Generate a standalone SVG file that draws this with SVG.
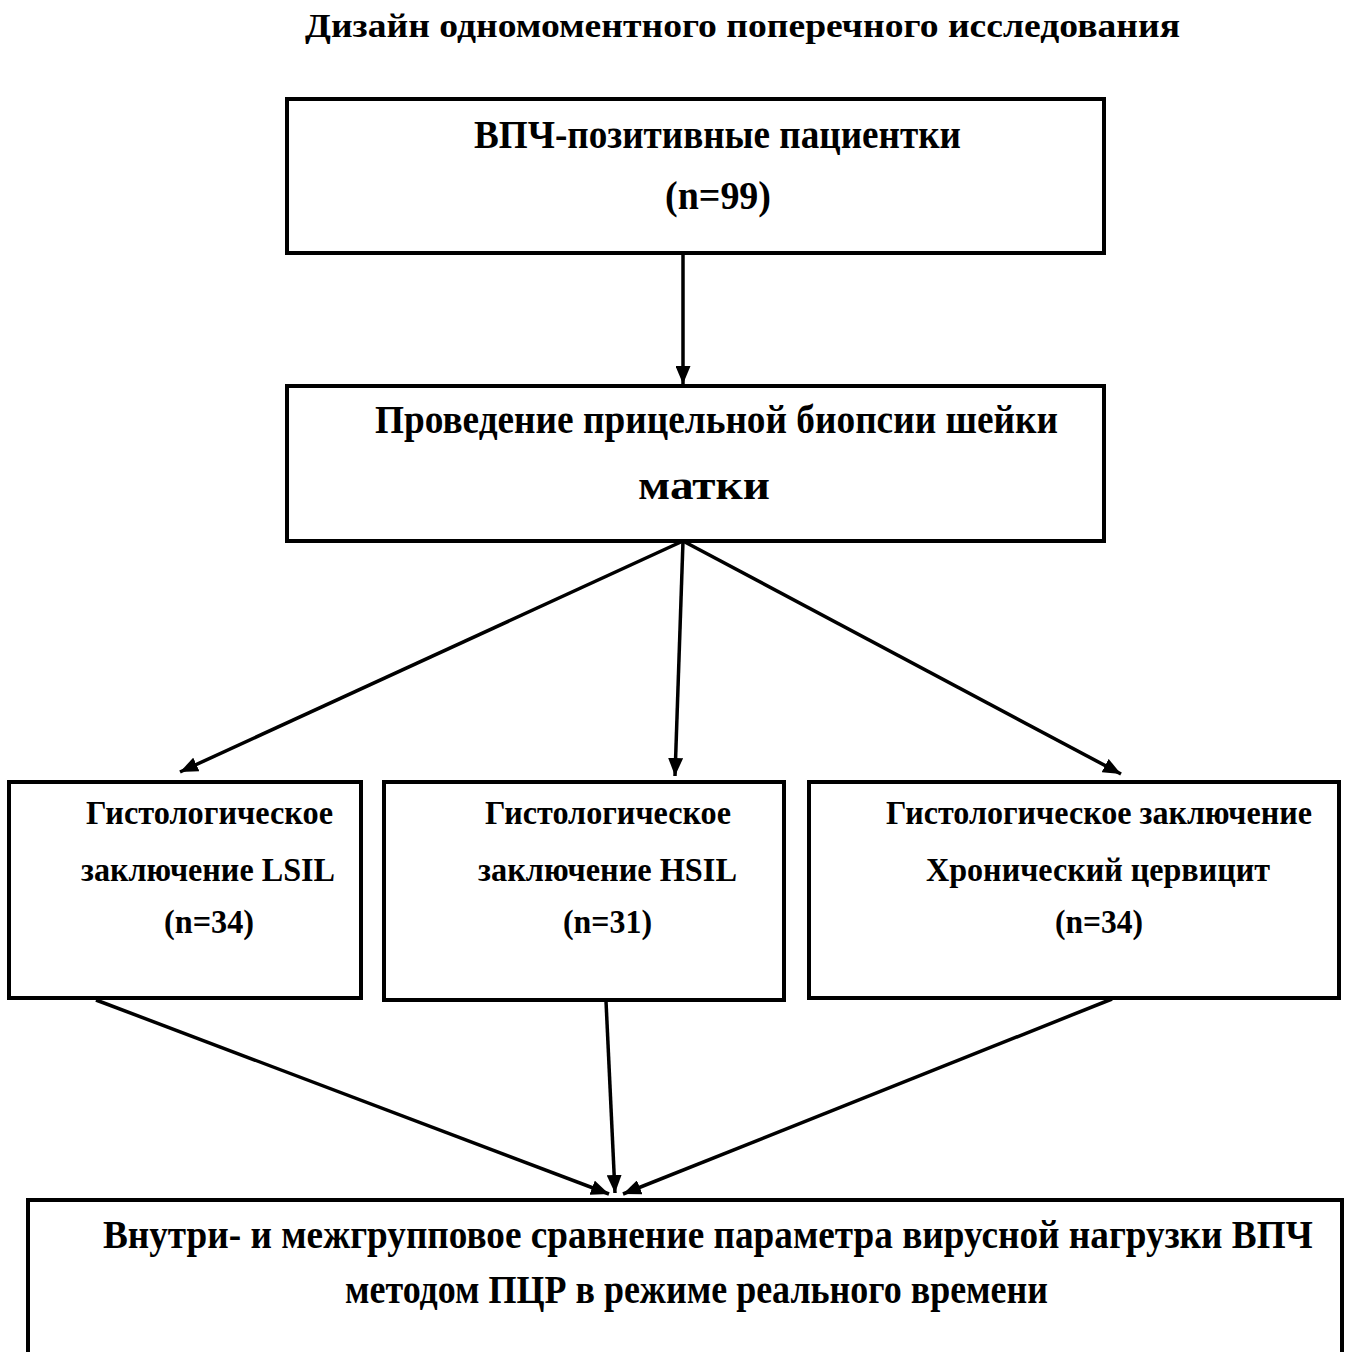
<svg xmlns="http://www.w3.org/2000/svg" width="1349" height="1352" viewBox="0 0 1349 1352">
<style>
.box{fill:#fff;stroke:#000;stroke-width:4}
.t{font-family:"Liberation Serif","Times New Roman",serif;font-weight:bold;fill:#000}
.l{fill:none;stroke:#000;stroke-width:3.5}
</style>
<defs>
<marker id="ah" markerUnits="userSpaceOnUse" markerWidth="18" markerHeight="15" refX="18" refY="7.5" orient="auto" viewBox="0 0 18 15">
<path d="M0,0 L18,7.5 L0,15 z" fill="#000"/>
</marker>
</defs>
<rect width="1349" height="1352" fill="#fff"/>
<text class="t" x="305" y="37" font-size="33" textLength="875" lengthAdjust="spacingAndGlyphs">Дизайн одномоментного поперечного исследования</text>
<g id="connectors">
<line class="l" x1="683" y1="253" x2="683" y2="384" marker-end="url(#ah)"/>
<line class="l" x1="683" y1="541" x2="180" y2="772" marker-end="url(#ah)"/>
<line class="l" x1="683" y1="541" x2="675" y2="776" marker-end="url(#ah)"/>
<line class="l" x1="683" y1="541" x2="1121" y2="774" marker-end="url(#ah)"/>
<line class="l" x1="96" y1="1000" x2="609" y2="1194" marker-end="url(#ah)"/>
<line class="l" x1="606" y1="1001" x2="615" y2="1193" marker-end="url(#ah)"/>
<line class="l" x1="1112" y1="999" x2="623" y2="1194" marker-end="url(#ah)"/>
</g>
<g id="n1">
<rect class="box" x="287" y="99" width="817" height="154"/>
<text class="t" x="474" y="148" font-size="40" textLength="487" lengthAdjust="spacingAndGlyphs">ВПЧ-позитивные пациентки</text>
<text class="t" x="665" y="209" font-size="40" textLength="106" lengthAdjust="spacingAndGlyphs">(n=99)</text>
</g>
<g id="n2">
<rect class="box" x="287" y="386" width="817" height="155"/>
<text class="t" x="375" y="433" font-size="40" textLength="683" lengthAdjust="spacingAndGlyphs">Проведение прицельной биопсии шейки</text>
<text class="t" x="638" y="499" font-size="40" textLength="132" lengthAdjust="spacingAndGlyphs">матки</text>
</g>
<g id="n3">
<rect class="box" x="9" y="782" width="352" height="216"/>
<text class="t" x="86" y="824" font-size="34" textLength="247" lengthAdjust="spacingAndGlyphs">Гистологическое</text>
<text class="t" x="81" y="881" font-size="34" textLength="254" lengthAdjust="spacingAndGlyphs">заключение LSIL</text>
<text class="t" x="164" y="933" font-size="34" textLength="90" lengthAdjust="spacingAndGlyphs">(n=34)</text>
</g>
<g id="n4">
<rect class="box" x="384" y="782" width="400" height="218"/>
<text class="t" x="485" y="824" font-size="34" textLength="246" lengthAdjust="spacingAndGlyphs">Гистологическое</text>
<text class="t" x="478" y="881" font-size="34" textLength="259" lengthAdjust="spacingAndGlyphs">заключение HSIL</text>
<text class="t" x="563" y="933" font-size="34" textLength="89" lengthAdjust="spacingAndGlyphs">(n=31)</text>
</g>
<g id="n5">
<rect class="box" x="809" y="782" width="530" height="216"/>
<text class="t" x="886" y="824" font-size="34" textLength="426" lengthAdjust="spacingAndGlyphs">Гистологическое заключение</text>
<text class="t" x="926" y="881" font-size="34" textLength="344" lengthAdjust="spacingAndGlyphs">Хронический цервицит</text>
<text class="t" x="1055" y="933" font-size="34" textLength="88" lengthAdjust="spacingAndGlyphs">(n=34)</text>
</g>
<g id="n6">
<path class="box" d="M28,1360 L28,1200 L1342,1200 L1342,1360"/>
<text class="t" transform="scale(0.88,1)" x="117" y="1248" font-size="39" textLength="1375" lengthAdjust="spacingAndGlyphs">Внутри- и межгрупповое сравнение параметра вирусной нагрузки ВПЧ</text>
<text class="t" x="345" y="1303" font-size="39" textLength="703" lengthAdjust="spacingAndGlyphs">методом ПЦР в режиме реального времени</text>
</g>
</svg>
